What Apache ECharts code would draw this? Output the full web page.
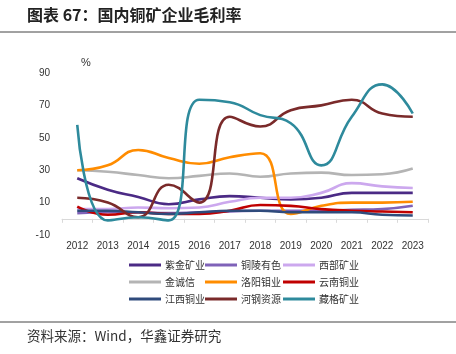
<!DOCTYPE html>
<html>
<head>
<meta charset="utf-8">
<script src="https://cdn.jsdelivr.net/npm/echarts@6/dist/echarts.min.js"></script>
<style>
  html, body { margin: 0; padding: 0; background: #fff; }
  #main { width: 456px; height: 354px; }
</style>
</head>
<body>
<div id="main"></div>
<script>
var years = ['2012', '2013', '2014', '2015', '2016', '2017', '2018', '2019', '2020', '2021', '2022', '2023'];

// 毛利率 %
var zijin    = [25, 18, 13.5, 9, 12, 14, 13, 12, 13, 16, 16, 16];
var tongling = [3.5, 4, 4, 3.5, 4, 4.5, 5, 5, 5, 5.5, 6, 8];
var xibu     = [6, 6, 7, 6.5, 7, 10.5, 13, 13, 16, 22, 20, 19];
var jinchengxin = [30, 29, 27, 25, 26.5, 28, 26, 28, 28.5, 27, 27.5, 31];
var luoyang  = [30, 33, 42.5, 37.5, 34, 38, 40.5, 3, 8, 10, 10, 10.5];
var yunnan   = [7.5, 2.5, 4, 3, 3, 5, 8.5, 8, 6, 5, 4.5, 4];
var jiangxi  = [5, 5, 4, 3, 4, 5, 5, 4, 4, 4, 2.5, 2];
var hegang   = [13, 10, 1, 21, 10, 63, 57, 67, 70, 73.5, 65, 63];
var zangge   = [58, -1, 1, -1, 73.5, 72, 64, 59, 33, 63, 83, 65];

var names = ['紫金矿业', '铜陵有色', '西部矿业', '金诚信', '洛阳钼业', '云南铜业', '江西铜业', '河钢资源', '藏格矿业'];
var values = [zijin, tongling, xibu, jinchengxin, luoyang, yunnan, jiangxi, hegang, zangge];
var colors = ['#4B2A85', '#7F62B8', '#CCA8EE', '#B4B4B4', '#FF8C00', '#C00000', '#2F4B7C', '#7A2A2A', '#2E8A9C'];

var cjk = '"Noto Sans CJK SC", sans-serif';

var chart = echarts.init(document.getElementById('main'));

var series = names.map(function (n, i) {
  return {
    name: n,
    type: 'line',
    data: values[i],
    smooth: 0.5,
    showSymbol: false,
    lineStyle: { width: 2.6, color: colors[i] },
    itemStyle: { color: colors[i] },
    z: i === 8 ? 5 : 2
  };
});

function legendCol(left, data) {
  return {
    orient: 'vertical',
    left: left,
    top: 255,
    data: data,
    icon: 'rect',
    itemWidth: 32,
    itemHeight: 3,
    itemGap: 7,
    textStyle: { fontFamily: cjk, fontSize: 10, color: '#333', padding: [0, 0, 0, -1] }
  };
}

var option = {
  animation: false,
  color: colors,
  grid: { left: 62, right: 28, top: 73, bottom: 119 },
  xAxis: {
    type: 'category',
    data: years,
    boundaryGap: true,
    axisLine: { onZero: true, lineStyle: { color: '#D9D9D9', width: 1 } },
    axisTick: { show: true, length: 4, lineStyle: { color: '#D9D9D9' } },
    axisLabel: { color: '#333', fontSize: 10, margin: 6, fontFamily: 'Arial, "Liberation Sans", sans-serif' }
  },
  yAxis: {
    type: 'value',
    min: -10,
    max: 90,
    interval: 10,
    splitLine: { show: false },
    axisLine: { show: false },
    axisTick: { show: false },
    axisLabel: {
      color: '#333',
      fontSize: 10,
      margin: 12,
      fontFamily: 'Arial, "Liberation Sans", sans-serif',
      formatter: function (v) { return ((v + 10) % 20 === 0) ? String(v) : ''; }
    }
  },
  legend: [
    legendCol(124, ['紫金矿业', '金诚信', '江西铜业']),
    legendCol(200, ['铜陵有色', '洛阳钼业', '河钢资源']),
    legendCol(278, ['西部矿业', '云南铜业', '藏格矿业'])
  ],
  graphic: [
    { type: 'text', left: 27, top: 7, style: { text: '图表 67：国内铜矿企业毛利率', font: 'bold 16px ' + cjk, fill: '#222' } },
    { type: 'line', shape: { x1: 0, y1: 32, x2: 456, y2: 32 }, style: { stroke: '#444', lineWidth: 1 } },
    { type: 'text', left: 81, top: 57, style: { text: '%', font: '11px Arial, sans-serif', fill: '#333' } },
    { type: 'line', shape: { x1: 0, y1: 322, x2: 456, y2: 322 }, style: { stroke: '#444', lineWidth: 1 } },
    { type: 'text', left: 27, top: 329, style: { text: '资料来源：Wind，华鑫证券研究', font: '13.5px ' + cjk, fill: '#333' } }
  ],
  series: series
};

chart.setOption(option);
</script>
</body>
</html>
